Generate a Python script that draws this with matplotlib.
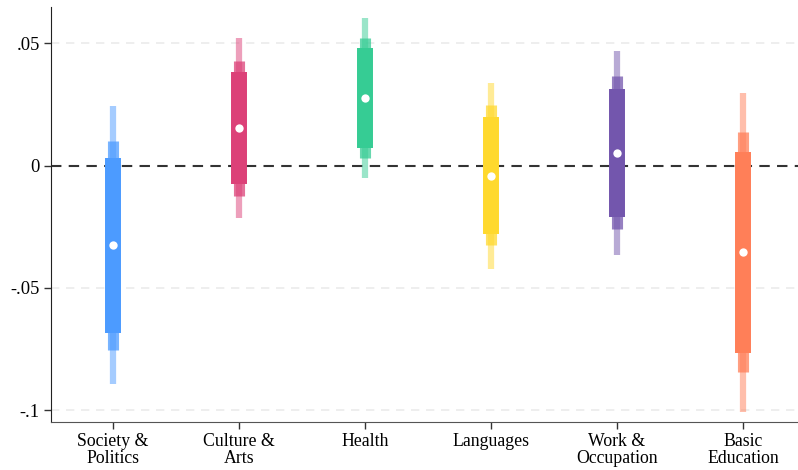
import numpy as np
import matplotlib
matplotlib.use("Agg")
import matplotlib.pyplot as plt

plt.rcParams["font.family"] = ["Liberation Serif", "DejaVu Serif"]

labels = ["Society &\nPolitics", "Culture &\nArts", "Health", "Languages",
          "Work &\nOccupation", "Basic\nEducation"]
colors = ["#4C9BFF", "#DC4178", "#36CC94", "#FFD92E", "#7356AD", "#FF7F58"]
est = [-0.0325, 0.0153, 0.0276, -0.0041, 0.0052, -0.0355]
# confidence bands: widest (thin), middle, narrowest (thick)
lo99 = [-0.0893, -0.0215, -0.0050, -0.0422, -0.0364, -0.1007]
hi99 = [0.0243, 0.0520, 0.0603, 0.0339, 0.0468, 0.0295]
lo95 = [-0.0754, -0.0123, 0.0029, -0.0327, -0.0261, -0.0845]
hi95 = [0.0100, 0.0428, 0.0523, 0.0246, 0.0367, 0.0136]
lo90 = [-0.0685, -0.0077, 0.0072, -0.0280, -0.0209, -0.0765]
hi90 = [0.0031, 0.0384, 0.0482, 0.0198, 0.0314, 0.0056]
yticks = [-0.1, -0.05, 0, 0.05]
ytlabels = ["-.1", "-.05", "0", ".05"]

fig = plt.figure(figsize=(7.98, 4.70), dpi=100)
ax = fig.add_axes([0.064, 0.102, 0.936, 0.883])
x = np.arange(1, len(labels) + 1)

for yv in [-0.1, -0.05, 0.05]:
    ax.axhline(yv, color="#EBEBEB", lw=1.2, ls=(0, (5, 4)), zorder=0)
ax.axhline(0, color="#333333", lw=1.5, ls=(0, (5, 3.5)), zorder=1)

for i in range(len(x)):
    c = colors[i]
    ax.vlines(x[i], lo99[i], hi99[i], color=c, alpha=0.5, lw=4.5, zorder=2)
    ax.vlines(x[i], lo95[i], hi95[i], color=c, alpha=0.75, lw=8, zorder=3)
    ax.vlines(x[i], lo90[i], hi90[i], color=c, lw=11.5, zorder=4)
ax.scatter(x, est, s=36, color="white", zorder=5, linewidths=0)

ax.set_xlim(0.508, 6.437)
ax.set_ylim(-0.1049, 0.0648)
ax.set_xticks(x)
ax.set_xticklabels(labels, fontsize=12.8, linespacing=1.0)
ax.set_yticks(yticks)
ax.set_yticklabels(ytlabels, fontsize=13.3)
ax.tick_params(axis="both", length=5, width=1, color="#333333", pad=3)
for s in ["top", "right"]:
    ax.spines[s].set_visible(False)
ax.spines["left"].set_color("#222222")
ax.spines["bottom"].set_color("#555555")

fig.savefig("out.png", dpi=100)
